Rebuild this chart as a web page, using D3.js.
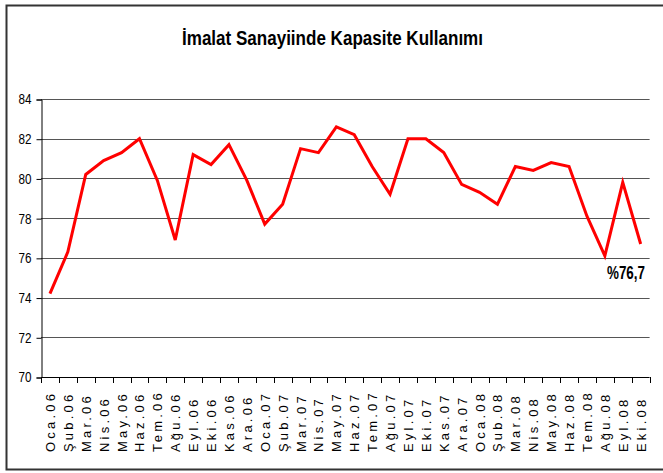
<!DOCTYPE html>
<html>
<head>
<meta charset="utf-8">
<script src="https://cdn.jsdelivr.net/npm/d3@7"></script>
<style>
  html, body { margin: 0; padding: 0; background: #fff; }
  svg { display: block; }
</style>
</head>
<body>
<svg id="chart" width="663" height="473"></svg>
<script>
const categories = ["Oca.06","Şub.06","Mar.06","Nis.06","May.06","Haz.06","Tem.06","Ağu.06","Eyl.06","Eki.06","Kas.06","Ara.06",
  "Oca.07","Şub.07","Mar.07","Nis.07","May.07","Haz.07","Tem.07","Ağu.07","Eyl.07","Eki.07","Kas.07","Ara.07",
  "Oca.08","Şub.08","Mar.08","Nis.08","May.08","Haz.08","Tem.08","Ağu.08","Eyl.08","Eki.08"];
const values = [74.2,76.3,80.2,80.9,81.3,82.0,79.9,76.9,81.2,80.7,81.7,79.9,
  77.7,78.7,81.5,81.3,82.6,82.2,80.6,79.2,82.0,82.0,81.3,79.7,
  79.3,78.7,80.6,80.4,80.8,80.6,78.1,76.1,79.8,76.7];
const yTicks = [70,72,74,76,78,80,82,84];
const title = "İmalat Sanayiinde Kapasite Kullanımı";
const annotation = "%76,7";

const svg = d3.select("#chart");
const sans = "'Liberation Sans',Arial,sans-serif";

// frame
svg.append("path")
  .attr("d", "M663,5.5 H6.5 V469.5 H663")
  .attr("fill", "none").attr("stroke", "#333").attr("stroke-width", 2);

const x = d3.scaleBand().domain(categories).range([41, 649.6]);
const y = d3.scaleLinear().domain([70, 84]).range([377, 99]);

// title
svg.append("text")
  .attr("x", 182).attr("y", 45)
  .attr("font-family", sans).attr("font-weight", "bold")
  .attr("font-size", 19.5).attr("fill", "#000")
  .attr("textLength", 301).attr("lengthAdjust", "spacingAndGlyphs")
  .text(title);

// gridlines
svg.append("g").selectAll("line").data(yTicks.filter(d => d !== 70)).join("line")
  .attr("x1", 41).attr("x2", 649.6)
  .attr("y1", d => Math.round(y(d)) + 0.5).attr("y2", d => Math.round(y(d)) + 0.5)
  .attr("stroke", "#555").attr("stroke-width", 1);

// y axis
const yAxis = d3.axisLeft(y).tickValues(yTicks).tickSize(5).tickPadding(5).tickFormat(d3.format("d"));
const gy = svg.append("g").attr("transform", "translate(41.5,0.5)").call(yAxis);
gy.select(".domain").attr("stroke", "#000");
gy.selectAll(".tick line").attr("stroke", "#000");
gy.selectAll("text").attr("font-family", sans).attr("font-size", 14).attr("fill", "#000")
  .attr("textLength", 13).attr("lengthAdjust", "spacingAndGlyphs");

// x axis
const gx = svg.append("g");
gx.append("line").attr("x1", 41).attr("x2", 649.6)
  .attr("y1", 377.5).attr("y2", 377.5).attr("stroke", "#000");
const edges = categories.map(c => x(c)).concat([x(categories[categories.length - 1]) + x.bandwidth()]);
gx.selectAll("line.tk").data(edges).join("line").attr("class", "tk")
  .attr("x1", d => Math.round(d) + 0.5).attr("x2", d => Math.round(d) + 0.5)
  .attr("y1", 377).attr("y2", 383).attr("stroke", "#000");
gx.selectAll("text").data(categories).join("text")
  .attr("transform", d => `translate(${x(d) + x.bandwidth() / 2 + 5},452) rotate(-90)`)
  .attr("font-family", sans).attr("font-size", 13)
  .attr("letter-spacing", 3.2)
  .attr("fill", "#000")
  .text(d => d);

// line
const line = d3.line()
  .x((d, i) => x(categories[i]) + x.bandwidth() / 2)
  .y(d => y(d));
svg.append("path").datum(values)
  .attr("d", line)
  .attr("fill", "none").attr("stroke", "#ff0000")
  .attr("stroke-width", 3).attr("stroke-linejoin", "miter");

// annotation
svg.append("text")
  .attr("x", 607).attr("y", 279)
  .attr("font-family", sans).attr("font-weight", "bold")
  .attr("font-size", 19).attr("fill", "#000")
  .attr("textLength", 38).attr("lengthAdjust", "spacingAndGlyphs")
  .text(annotation);
</script>
</body>
</html>
